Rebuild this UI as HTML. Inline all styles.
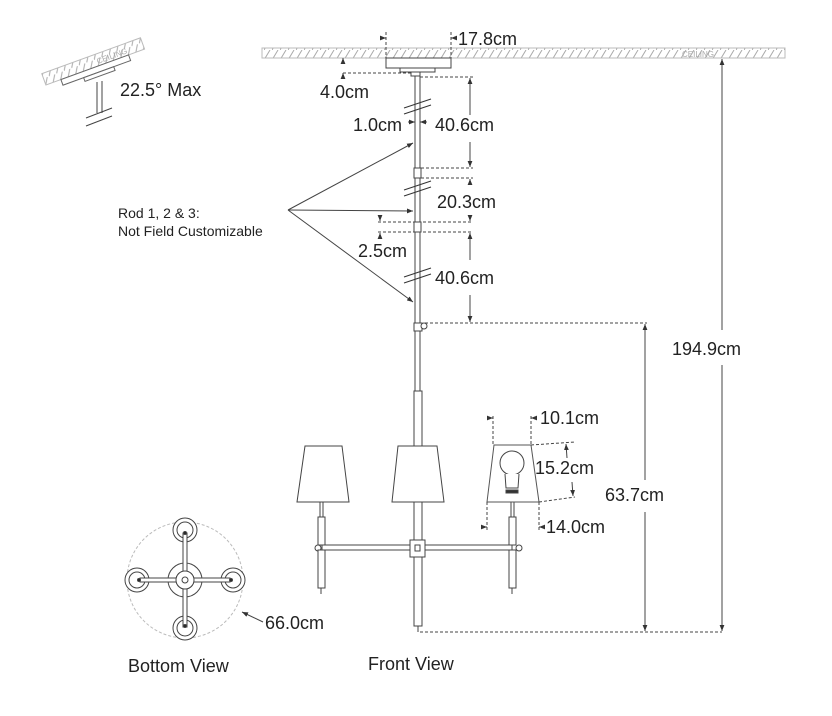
<!DOCTYPE html>
<html><head><meta charset="utf-8"><style>
html,body{margin:0;padding:0;background:#fff}
svg{display:block}
text{font-family:"Liberation Sans",sans-serif;fill:#222}
</style></head><body>
<svg width="832" height="716" viewBox="0 0 832 716" xmlns="http://www.w3.org/2000/svg">
<defs>
<pattern id="h" width="8" height="10" patternUnits="userSpaceOnUse">
<line x1="0" y1="10" x2="6" y2="0" stroke="#aaa" stroke-width="1"/>
</pattern>
<marker id="a" viewBox="0 0 10 10" refX="10" refY="5" markerWidth="6" markerHeight="6" orient="auto-start-reverse"><path d="M0,1 L10,5 L0,9z" fill="#333"/></marker>
</defs>
<g fill="none" stroke="#444" stroke-width="1">
<!-- ceiling -->
<rect x="262" y="48" width="523" height="10" fill="url(#h)" stroke="#bbb"/>
<text x="682" y="57" font-size="8" fill="#aaa" stroke="none" style="fill:#aaa">CEILING</text>
<!-- canopy -->
<rect x="386" y="58" width="65" height="10" fill="#fff"/>
<rect x="400" y="68" width="35" height="4" fill="#fff"/>
<rect x="411" y="72" width="9" height="4" fill="#fff"/>
<!-- 17.8 dims -->
<g stroke-dasharray="3,2"><line x1="386" y1="32" x2="386" y2="58"/><line x1="451" y1="32" x2="451" y2="58"/></g>
<line x1="380" y1="38" x2="386" y2="38" marker-end="url(#a)"/>
<line x1="457" y1="38" x2="451" y2="38" marker-end="url(#a)"/>
<!-- 4.0 -->
<line x1="343" y1="63" x2="343" y2="58" marker-end="url(#a)"/>
<line x1="343" y1="78" x2="343" y2="73" marker-end="url(#a)"/>
<line x1="343" y1="73" x2="411" y2="73" stroke-dasharray="3,2"/>
<!-- rod -->
<line x1="415" y1="76" x2="415" y2="392"/><line x1="420" y1="76" x2="420" y2="392"/>
<rect x="414" y="168" width="7" height="10" fill="#fff"/>
<rect x="414" y="222" width="7" height="10" fill="#fff"/>
<rect x="414" y="323" width="8" height="8" fill="#fff"/><circle cx="424" cy="326" r="3" fill="#fff"/>
<!-- breaks -->
<g stroke="#333"><line x1="404" y1="108" x2="431" y2="99"/><line x1="404" y1="114" x2="431" y2="105"/>
<line x1="404" y1="190" x2="431" y2="181"/><line x1="404" y1="196" x2="431" y2="187"/>
<line x1="404" y1="277" x2="431" y2="268"/><line x1="404" y1="283" x2="431" y2="274"/></g>
<!-- dashed refs -->
<g stroke-dasharray="3,2"><line x1="420" y1="77" x2="473" y2="77"/><line x1="421" y1="168" x2="473" y2="168"/><line x1="421" y1="178" x2="473" y2="178"/>
<line x1="378" y1="222" x2="473" y2="222"/><line x1="378" y1="232" x2="473" y2="232"/>
<line x1="425" y1="323" x2="647" y2="323"/><line x1="420" y1="632" x2="722" y2="632"/></g>
<!-- dims -->
<line x1="470" y1="115" x2="470" y2="78" marker-end="url(#a)"/><line x1="470" y1="142" x2="470" y2="167" marker-end="url(#a)"/>
<line x1="470" y1="185" x2="470" y2="179" marker-end="url(#a)"/>
<line x1="470" y1="215" x2="470" y2="221" marker-end="url(#a)"/>
<line x1="470" y1="260" x2="470" y2="233" marker-end="url(#a)"/><line x1="470" y1="295" x2="470" y2="322" marker-end="url(#a)"/>
<line x1="380" y1="216" x2="380" y2="221" marker-end="url(#a)"/><line x1="380" y1="238" x2="380" y2="233" marker-end="url(#a)"/>
<line x1="408" y1="122" x2="415" y2="122" marker-end="url(#a)"/><line x1="427" y1="122" x2="420" y2="122" marker-end="url(#a)"/>
<line x1="722" y1="330" x2="722" y2="59" marker-end="url(#a)"/><line x1="722" y1="365" x2="722" y2="631" marker-end="url(#a)"/>
<line x1="645" y1="480" x2="645" y2="324" marker-end="url(#a)"/><line x1="645" y1="512" x2="645" y2="631" marker-end="url(#a)"/>
<!-- leaders -->
<line x1="288" y1="210" x2="413" y2="143" marker-end="url(#a)"/>
<line x1="288" y1="210" x2="413" y2="211" marker-end="url(#a)"/>
<line x1="288" y1="210" x2="413" y2="302" marker-end="url(#a)"/>
<!-- lower rod -->
<rect x="414" y="391" width="8" height="150" fill="#fff"/>
<rect x="414" y="557" width="8" height="69" fill="#fff"/>
<line x1="418" y1="626" x2="418" y2="632"/>
<!-- arms -->
<rect x="322" y="545" width="190" height="5" fill="#fff"/>
<rect x="410" y="540" width="15" height="17" fill="#fff"/><rect x="415" y="545" width="5" height="6"/>
<circle cx="318" cy="548" r="3" fill="#fff"/><circle cx="519" cy="548" r="3" fill="#fff"/>
<rect x="318" y="517" width="7" height="28" fill="#fff"/><rect x="318" y="550" width="7" height="38" fill="#fff"/>
<line x1="320" y1="502" x2="320" y2="517"/><line x1="323" y1="502" x2="323" y2="517"/><line x1="321" y1="588" x2="321" y2="594"/>
<rect x="509" y="517" width="7" height="28" fill="#fff"/><rect x="509" y="550" width="7" height="38" fill="#fff"/>
<line x1="511" y1="502" x2="511" y2="517"/><line x1="514" y1="502" x2="514" y2="517"/><line x1="512" y1="588" x2="512" y2="594"/>
<!-- shades -->
<path d="M305,446 L342,446 L349,502 L297,502Z" fill="#fff"/>
<path d="M398,446 L437,446 L444,502 L392,502Z" fill="#fff"/>
<path d="M494,445 L531,445 L539,502 L487,502Z" fill="#fff" stroke="#555"/>
<circle cx="512" cy="463" r="12" fill="#fff"/>
<path d="M505,474 L506,488 L518,488 L519,474" fill="#fff"/>
<rect x="506" y="490" width="12" height="3" fill="#333"/>
<!-- shade dims -->
<g stroke-dasharray="3,2"><line x1="493" y1="416" x2="493" y2="445"/><line x1="531" y1="416" x2="531" y2="445"/>
<line x1="487" y1="502" x2="487" y2="530"/><line x1="539" y1="502" x2="539" y2="530"/>
<line x1="531" y1="445" x2="575" y2="442"/><line x1="539" y1="502" x2="575" y2="497"/></g>
<line x1="487" y1="418" x2="493" y2="418" marker-end="url(#a)"/><line x1="537" y1="418" x2="531" y2="418" marker-end="url(#a)"/>
<line x1="481" y1="527" x2="487" y2="527" marker-end="url(#a)"/><line x1="545" y1="527" x2="539" y2="527" marker-end="url(#a)"/>
<line x1="567" y1="458" x2="566" y2="444" marker-end="url(#a)"/><line x1="572" y1="482" x2="573" y2="496" marker-end="url(#a)"/>
<!-- tilt icon -->
<g transform="rotate(-20 95 65)">
<rect x="42" y="55" width="105" height="12" fill="url(#h)" stroke="#bbb"/>
<rect x="58" y="67" width="72" height="6" fill="#fff" stroke="#666"/>
<rect x="80" y="73" width="32" height="4" fill="#fff" stroke="#666"/>
<text x="98" y="65" font-size="8" style="fill:#aaa" stroke="none">CEILING</text>
</g>
<line x1="97" y1="82" x2="97" y2="113"/><line x1="102" y1="81" x2="102" y2="113"/>
<line x1="86" y1="118" x2="112" y2="108"/><line x1="86" y1="126" x2="112" y2="116"/>
<!-- bottom view -->
<circle cx="185" cy="580" r="58" stroke="#bbb" stroke-dasharray="3,2"/>
<g fill="#fff"><circle cx="185" cy="530" r="12"/><circle cx="185" cy="530" r="8"/>
<circle cx="137" cy="580" r="12"/><circle cx="137" cy="580" r="8"/>
<circle cx="233" cy="580" r="12"/><circle cx="233" cy="580" r="8"/>
<circle cx="185" cy="628" r="12"/><circle cx="185" cy="628" r="8"/>
<circle cx="185" cy="580" r="17"/><circle cx="185" cy="580" r="9"/><circle cx="185" cy="580" r="3"/></g>
<rect x="140" y="578" width="90" height="4" fill="#fff"/>
<rect x="183" y="533" width="4" height="94" fill="#fff"/>
<circle cx="185" cy="580" r="9" fill="#fff"/><circle cx="185" cy="580" r="3"/>
<g fill="#222"><circle cx="185" cy="533" r="1.5"/><circle cx="185" cy="626" r="1.5"/><circle cx="139" cy="580" r="1.5"/><circle cx="231" cy="580" r="1.5"/></g>
<line x1="263" y1="622" x2="242" y2="612" marker-end="url(#a)"/>
</g>
<g font-size="18" stroke="none">
<text x="458" y="45">17.8cm</text>
<text x="320" y="98">4.0cm</text>
<text x="353" y="131">1.0cm</text>
<text x="435" y="131">40.6cm</text>
<text x="437" y="208">20.3cm</text>
<text x="358" y="257">2.5cm</text>
<text x="435" y="284">40.6cm</text>
<text x="672" y="355">194.9cm</text>
<text x="605" y="501">63.7cm</text>
<text x="540" y="424">10.1cm</text>
<text x="535" y="474">15.2cm</text>
<text x="546" y="533">14.0cm</text>
<text x="265" y="629">66.0cm</text>
<text x="120" y="96">22.5° Max</text>
<text x="128" y="672">Bottom View</text>
<text x="368" y="670">Front View</text>
</g>
<text x="118" y="218" font-size="14">Rod 1, 2 &amp; 3:</text>
<text x="118" y="236" font-size="14">Not Field Customizable</text>
</svg>
</body></html>
